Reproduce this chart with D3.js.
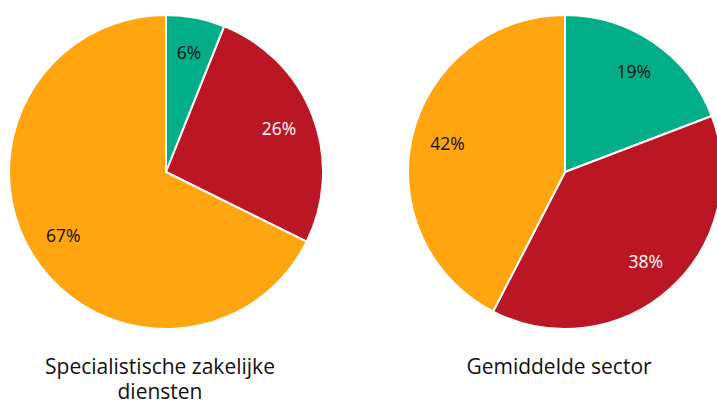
<!DOCTYPE html>
<html>
<head>
<meta charset="utf-8">
<script src="https://cdn.jsdelivr.net/npm/d3@7"></script>
<style>
  html, body { margin: 0; padding: 0; background: #fff; }
  svg { display: block; font-family: "Open Sans", "Noto Sans", sans-serif; }
</style>
</head>
<body>
<div id="chart"></div>
<script>
// shares per slice, clockwise from the top (green, red, orange)
const sliceColors = ['#02ae88', '#bb1624', '#fea50f'];
const labelColors = ['#111', '#fff', '#111'];

const specialistValues = [6, 26, 67];
const averageValues = [19, 38, 42];

const titles = [['Specialistische zakelijke', 'diensten'], ['Gemiddelde sector']];
const seriesValues = [specialistValues, averageValues];

const width = 717, height = 403;
const radius = 157;
const labelRadius = 121;
const centersX = [166, 565]; // pie centres
const centerY = 172;

const svg = d3.select('#chart')
    .append('svg')
    .attr('width', width)
    .attr('height', height);

const pie = d3.pie().sort(null).value(d => d);
const arc = d3.arc().innerRadius(0).outerRadius(radius);
const labelArc = d3.arc().innerRadius(labelRadius).outerRadius(labelRadius);

seriesValues.forEach((values, i) => {
    const g = svg.append('g')
        .attr('transform', `translate(${centersX[i]},${centerY})`);

    const arcs = pie(values);

    g.selectAll('path.slice')
        .data(arcs)
        .join('path')
        .classed('slice', true)
        .attr('d', arc)
        .attr('fill', (d, j) => sliceColors[j])
        .attr('stroke', '#fff')
        .attr('stroke-width', 2)
        .attr('stroke-linejoin', 'round');

    g.selectAll('text.label')
        .data(arcs)
        .join('text')
        .classed('label', true)
        .attr('transform', d => `translate(${labelArc.centroid(d)})`)
        .attr('text-anchor', 'middle')
        .attr('dy', '0.35em')
        .attr('fill', (d, j) => labelColors[j])
        .style('font-size', '17.5px')
        .text(d => d.data + '%');

    // title under the pie, slightly left of the pie centre
    const t = svg.append('text')
        .attr('x', centersX[i] - 6)
        .attr('y', 374)
        .attr('text-anchor', 'middle')
        .attr('fill', '#111')
        .style('font-size', '21px');
    titles[i].forEach((line, k) => {
        t.append('tspan')
            .attr('x', centersX[i] - 6)
            .attr('dy', k === 0 ? 0 : 25)
            .text(line);
    });
});
</script>
</body>
</html>
